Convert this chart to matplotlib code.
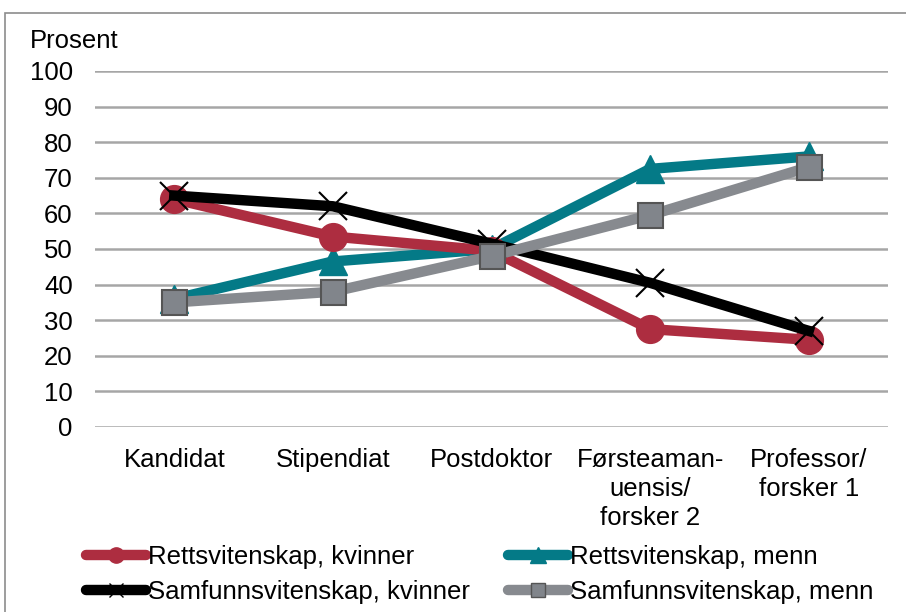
import matplotlib
matplotlib.use("Agg")
import matplotlib.pyplot as plt
from matplotlib.patches import Rectangle
from matplotlib.lines import Line2D

plt.rcParams['font.family'] = ['Liberation Sans', 'DejaVu Sans']

categories = ["Kandidat", "Stipendiat", "Postdoktor", "Førsteaman-\nuensis/\nforsker 2", "Professor/\nforsker 1"]
retts_kvinner = [64, 53.5, 49.5, 27.5, 24.5]
retts_menn = [36, 46.5, 50, 72.5, 76]
samf_kvinner = [65, 62, 51.5, 40.5, 27]
samf_menn = [35, 38, 48, 59.5, 73]
yticks = list(range(0, 101, 10))

W, H = 906, 612
FS = 18.5
fig = plt.figure(figsize=(W/100, H/100), dpi=100)
fig.patches.append(Rectangle((5/W, -0.01), 1.1, 1 - 13/H + 0.01, transform=fig.transFigure,
                             fill=False, edgecolor='#8c8c8c', linewidth=1.2))

ax = fig.add_axes([95/W, (H-427)/H, 793/W, 356/H])
x = list(range(len(categories)))

red = '#AD2D40'
teal = '#047A87'
grey = '#878A8F'
lw = 7.5

ax.plot(x, samf_menn, color=grey, lw=lw, marker='s', ms=18, mfc='#81858b', mec='#555555', mew=1.5, zorder=3)
ax.plot(x, retts_menn, color=teal, lw=lw, marker='^', ms=20, mfc=teal, mec=teal, zorder=2)
ax.plot(x, retts_kvinner, color=red, lw=lw, marker='o', ms=20, mfc=red, mec=red, zorder=2.5)
ax.plot(x, samf_kvinner, color='black', lw=lw, marker='x', ms=20, mew=1.5, mec='black', zorder=2.7)

ax.set_xlim(-0.5, len(categories) - 0.5)
ax.set_ylim(0, 100)
ax.set_yticks(yticks)
ax.set_yticklabels([str(v) for v in yticks], fontsize=FS)
ax.set_xticks(x)
ax.set_xticklabels(categories, fontsize=FS, linespacing=1.28)
ax.tick_params(axis='both', length=0)
ax.tick_params(axis='y', pad=16)
ax.tick_params(axis='x', pad=15)
ax.yaxis.grid(True, color='#a6a6a6', linewidth=1.8)
ax.set_axisbelow(True)
for s in ax.spines.values():
    s.set_visible(False)
for l in ax.lines:
    l.set_clip_on(False)

fig.text(30/W, 1 - 41/H, 'Prosent', fontsize=FS, va='center', ha='left')

handles = [
    Line2D([], [], color=red, lw=lw, marker='o', ms=11, mfc=red, mec=red, solid_capstyle='round'),
    Line2D([], [], color='black', lw=lw, marker='x', ms=10, mec='black', mew=1, solid_capstyle='round'),
    Line2D([], [], color=teal, lw=lw, marker='^', ms=11, mfc=teal, mec=teal, solid_capstyle='round'),
    Line2D([], [], color=grey, lw=lw, marker='s', ms=10, mfc='#81858b', mec='#555555', mew=1, solid_capstyle='round'),
]
labels = ['Rettsvitenskap, kvinner', 'Samfunnsvitenskap, kvinner',
          'Rettsvitenskap, menn', 'Samfunnsvitenskap, menn']
fig.legend(handles, labels, loc='upper left', bbox_to_anchor=(86/W, 1 - 545/H),
           ncol=2, frameon=False, fontsize=FS, handlelength=2.35, handletextpad=0.05,
           columnspacing=1.5, labelspacing=0.42, borderpad=0, borderaxespad=0)

fig.savefig('out.png', dpi=100)
